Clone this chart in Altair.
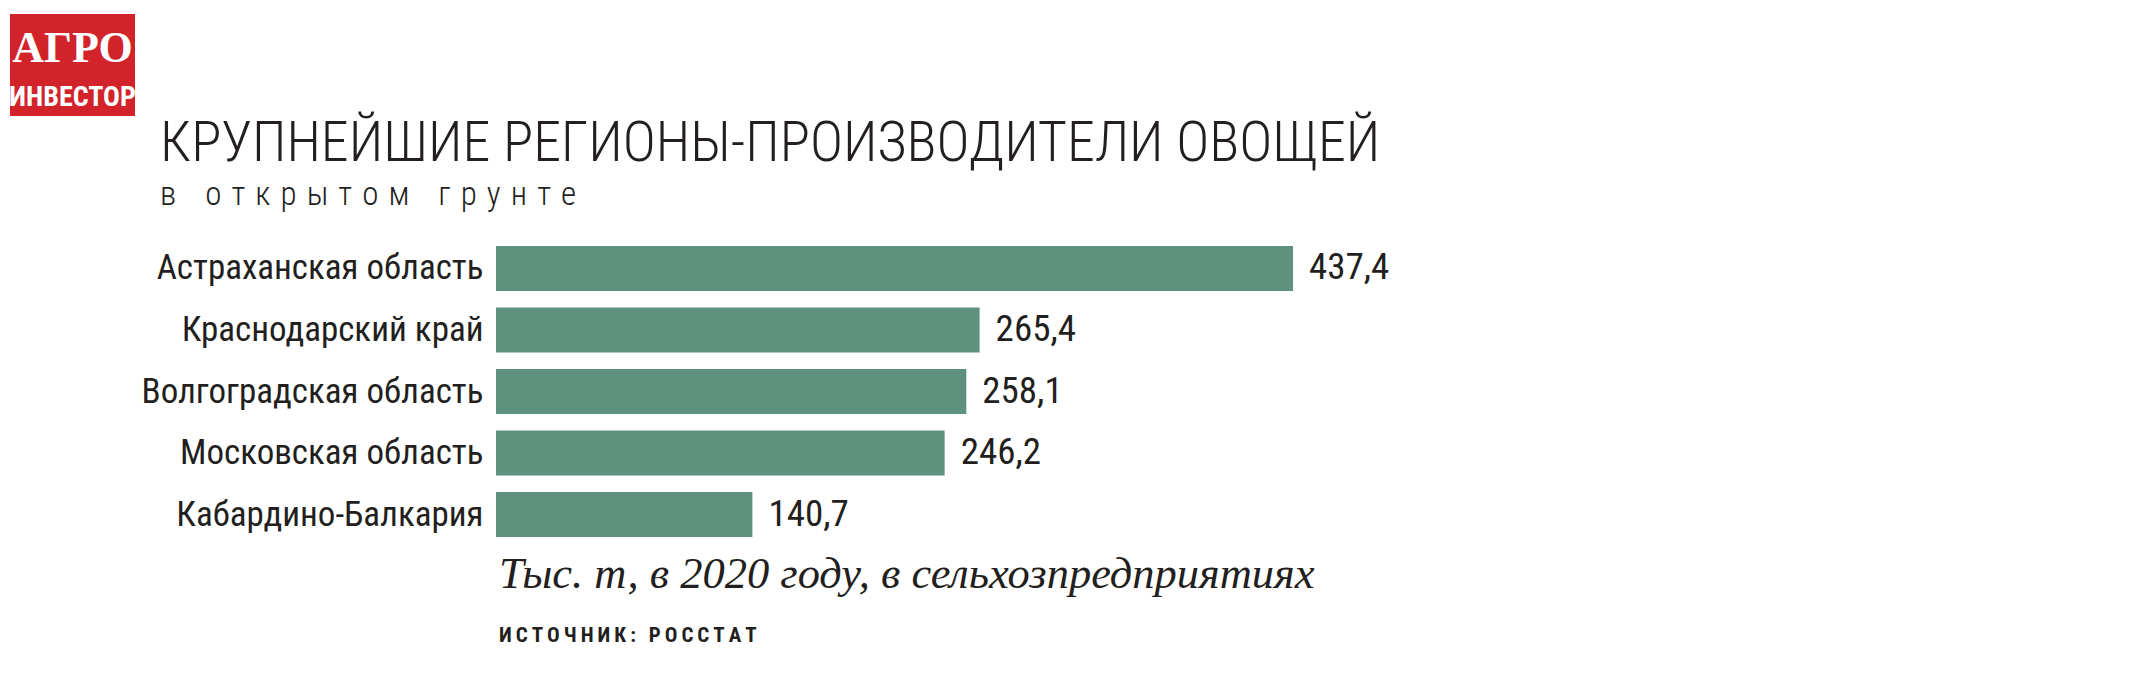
import altair as alt
import pandas as pd

regions = ["Астраханская область", "Краснодарский край", "Волгоградская область",
           "Московская область", "Кабардино-Балкария"]
values = [437.4, 265.4, 258.1, 246.2, 140.7]
labels = [f"{v:.1f}".replace(".", ",") for v in values]

title_text = "КРУПНЕЙШИЕ РЕГИОНЫ-ПРОИЗВОДИТЕЛИ ОВОЩЕЙ"
subtitle_words = ["в", "открытом", "грунте"]
note_text = "Тыс. т, в 2020 году, в сельхозпредприятиях"
source_text = "ИСТОЧНИК: РОССТАТ"
logo_top = "АГРО"
logo_bottom = "ИНВЕСТОР"

subtitle_spaced = "\u2003".join("\u2004".join(w) for w in subtitle_words)
source_spaced = "\u2009".join(source_text)

df = pd.DataFrame({"region": regions, "value": values, "label": labels})

W, H = 820, 291
COND = "Roboto Condensed"
INK = "#231f20"
GREEN = "#5f917f"
RED = "#d2232a"

base = alt.Chart(df)
bars = base.mark_bar(color=GREEN).encode(
    x=alt.X("value:Q", scale=alt.Scale(domain=[0, 450], nice=False), axis=None),
    y=alt.Y("region:N", sort=regions,
            scale=alt.Scale(paddingInner=0.27, paddingOuter=0),
            axis=alt.Axis(title=None, domain=False, ticks=False, labelPadding=13,
                          labelFont=COND, labelFontSize=35, labelColor=INK,
                          labelLimit=1000)),
)
vals = base.mark_text(align="left", baseline="middle", dx=16, font=COND,
                      fontSize=37, color=INK).encode(
    x="value:Q", y=alt.Y("region:N", sort=regions), text="label:N")

one = pd.DataFrame({"a": [0]})

def txt(text, x, y, **kw):
    return alt.Chart(one).mark_text(text=text, **kw).encode(
        x=alt.value(x), y=alt.value(y))

logo_rect = alt.Chart(one).mark_rect(color=RED).encode(
    x=alt.value(-486), x2=alt.value(-361), y=alt.value(-232), y2=alt.value(-130))
logo1 = txt(logo_top, -423.5, -184, align="center", baseline="alphabetic",
            font="Liberation Serif", fontWeight="bold", fontSize=44, color="white")
logo2 = txt(logo_bottom, -423.5, -140, align="center", baseline="alphabetic",
            font=COND, fontWeight="bold", fontSize=28, color="white")
title = txt(title_text, -336, -85, align="left", baseline="alphabetic",
            font=COND, fontWeight=300, fontSize=56, color=INK)
subtitle = txt(subtitle_spaced, -336, -41, align="left", baseline="alphabetic",
               font=COND, fontWeight=300, fontSize=33, color=INK)
note = txt(note_text, 3, 342, align="left", baseline="alphabetic",
           font="Liberation Serif", fontStyle="italic", fontSize=44.5, color=INK)
source = txt(source_spaced, 3, 396, align="left", baseline="alphabetic",
             font=COND, fontWeight="bold", fontSize=21, color=INK)

chart = alt.layer(bars, vals, logo_rect, logo1, logo2, title, subtitle, note, source).properties(
    width=W, height=H,
    background="white",
    autosize=alt.AutoSizeParams(type="none"),
    padding={"left": 488, "top": 238, "right": 600, "bottom": 140},
).configure_view(strokeWidth=0)

chart.save("out.html", embed_options={"renderer": "svg", "actions": False})
